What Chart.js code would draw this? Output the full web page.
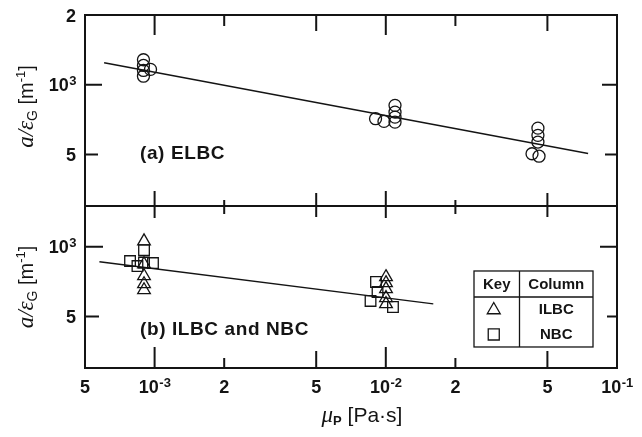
<!DOCTYPE html>
<html><head><meta charset="utf-8">
<script src="https://cdn.jsdelivr.net/npm/chart.js@4.4.0/dist/chart.umd.min.js"></script>
<style>html,body{margin:0;padding:0;background:#fff}canvas{display:block}</style>
</head><body>
<canvas id="c" width="642" height="437"></canvas>
<script>
// ---------------- data ----------------
const xTickValues = [5e-4, 1e-3, 2e-3, 5e-3, 1e-2, 2e-2, 5e-2, 1e-1];
const xTickLabels = ['5', '10^-3', '2', '5', '10^-2', '2', '5', '10^-1'];
const yTopTickValues = [2000, 1000, 500];
const yTopTickLabels = ['2', '10^3', '5'];
const yBotTickValues = [1000, 500];
const yBotTickLabels = ['10^3', '5'];

// (a) ELBC, circles
const elbcX = [8.95e-4, 8.95e-4, 8.95e-4, 8.95e-4, 9.6e-4,
               9.03e-3, 9.82e-3, 1.096e-2, 1.096e-2, 1.096e-2, 1.096e-2,
               4.55e-2, 4.55e-2, 4.55e-2, 4.29e-2, 4.6e-2];
const elbcY = [1282, 1212, 1153, 1089, 1165,
               714, 695, 815, 762, 725, 690,
               650, 605, 566, 504, 492];
// (b) ILBC, triangles
const ilbcX = [9e-4, 9e-4, 9e-4, 9e-4, 9e-4,
               1.002e-2, 1.002e-2, 1.002e-2, 1.002e-2, 1.002e-2];
const ilbcY = [1057, 842, 748, 691, 651,
               741, 698, 658, 602, 567];
// (b) NBC, squares
const nbcX = [7.83e-4, 8.43e-4, 9.84e-4, 9e-4, 9e-4,
              9.07e-3, 9.21e-3, 8.59e-3, 1.074e-2];
const nbcY = [868, 826, 851, 967, 855,
              705, 638, 584, 550];
// correlation lines
const fitAX = [6.05e-4, 7.5e-2];
const fitAY = [1245, 505];
const fitBX = [5.77e-4, 1.605e-2];
const fitBY = [862, 567];

const zip = (xs, ys) => xs.map((x, i) => ({x, y: ys[i]}));
const INK = '#141414';
const SANS = '"Liberation Sans", Arial, sans-serif';
const SERIF = '"Liberation Serif", "DejaVu Serif", serif';

function splitSci(lbl) {
  const i = lbl.indexOf('^');
  return i < 0 ? {base: lbl, sup: ''} : {base: lbl.slice(0, i), sup: lbl.slice(i + 1)};
}
function drawSci(ctx, lbl, x, baseY, align, size) {
  const {base, sup} = splitSci(lbl);
  const bf = 'bold ' + size + 'px ' + SANS;
  const sf = 'bold ' + Math.round(size * 0.72) + 'px ' + SANS;
  ctx.font = bf; const bw = ctx.measureText(base).width;
  ctx.font = sf; const sw = sup ? ctx.measureText(sup).width : 0;
  const tw = bw + sw;
  let x0 = align === 'center' ? x - tw / 2 : (align === 'right' ? x - tw : x);
  ctx.textAlign = 'left'; ctx.textBaseline = 'alphabetic';
  ctx.font = bf; ctx.fillText(base, x0, baseY);
  if (sup) { ctx.font = sf; ctx.fillText(sup, x0 + bw + 0.5, baseY - size * 0.33); }
}
function drawRich(ctx, parts, cx, cy) {
  let total = 0;
  parts.forEach(p => { ctx.font = p.font; p.w = ctx.measureText(p.t).width; total += p.w; });
  let x = cx - total / 2;
  ctx.textAlign = 'left'; ctx.textBaseline = 'alphabetic';
  parts.forEach(p => { ctx.font = p.font; ctx.fillText(p.t, x, cy + (p.dy || 0)); x += p.w; });
}
function mant(v) { const e = Math.floor(Math.log10(v) + 1e-9); return Math.round(v / Math.pow(10, e)); }

const framePlugin = {
  id: 'frame',
  afterDraw(chart) {
    const ctx = chart.ctx;
    const xs = chart.scales.x, yt = chart.scales.yTop, yb = chart.scales.yBot;
    const L = xs.left, R = xs.right;
    const T = Math.min(yt.top, yb.top), B = Math.max(yt.bottom, yb.bottom);
    const D = yt.bottom < yb.bottom ? yt.bottom : yb.top;
    ctx.save();
    ctx.strokeStyle = INK; ctx.fillStyle = INK; ctx.lineCap = 'butt';
    // frame + divider
    ctx.lineWidth = 2;
    ctx.strokeRect(L, T, R - L, B - T);
    ctx.beginPath(); ctx.moveTo(L, D); ctx.lineTo(R, D); ctx.stroke();
    // x ticks (inward)
    const lenTop = {1: 20, 5: 16, 2: 11};
    const lenDivUp = {1: 15, 5: 13, 2: 6};
    const lenDivDn = {1: 12, 5: 11, 2: 8};
    const lenBot = {1: 21, 5: 17, 2: 10};
    ctx.lineWidth = 2;
    xTickValues.forEach((v, i) => {
      const px = xs.getPixelForValue(v);
      if (px <= L + 1 || px >= R - 1) return;
      const m = mant(v);
      ctx.beginPath();
      ctx.moveTo(px, T); ctx.lineTo(px, T + lenTop[m]);
      ctx.moveTo(px, D - lenDivUp[m]); ctx.lineTo(px, D + lenDivDn[m]);
      ctx.moveTo(px, B); ctx.lineTo(px, B - lenBot[m]);
      ctx.stroke();
    });
    // y ticks (inward, both sides)
    const yTickLen = {top: {1: [17, 15], 5: [13, 12]}, bot: {1: [18, 17], 5: [14, 10]}};
    [[yt, yTopTickValues, 'top'], [yb, yBotTickValues, 'bot']].forEach(([sc, vals, key]) => {
      vals.forEach(v => {
        const py = sc.getPixelForValue(v);
        if (py <= sc.top + 1 || py >= sc.bottom - 1) return;
        const m = mant(v);
        const [ll, rl] = yTickLen[key][m];
        ctx.beginPath();
        ctx.moveTo(L, py); ctx.lineTo(L + ll, py);
        ctx.moveTo(R, py); ctx.lineTo(R - rl, py);
        ctx.stroke();
      });
    });
    // x tick labels
    xTickValues.forEach((v, i) => {
      drawSci(ctx, xTickLabels[i], xs.getPixelForValue(v), B + 25, 'center', 18);
    });
    // y tick labels
    [[yt, yTopTickValues, yTopTickLabels], [yb, yBotTickValues, yBotTickLabels]].forEach(([sc, vals, labs]) => {
      vals.forEach((v, i) => {
        const py = sc.getPixelForValue(v);
        drawSci(ctx, labs[i], L - 9, py + 6.5, 'right', 18);
      });
    });
    // y axis titles
    const yTitle = () => [
      {t: 'a/\u03b5', font: 'italic 23px ' + SERIF},
      {t: 'G', font: '14px ' + SANS, dy: 4},
      {t: ' [m', font: '20px ' + SANS},
      {t: '-1', font: '13px ' + SANS, dy: -8},
      {t: ']', font: '20px ' + SANS}
    ];
    [[yt, -4], [yb, 0]].forEach(([sc, off]) => {
      ctx.save();
      ctx.translate(L - 52, (sc.top + sc.bottom) / 2 + off);
      ctx.rotate(-Math.PI / 2);
      drawRich(ctx, yTitle(), 0, 0);
      ctx.restore();
    });
    // x axis title
    drawRich(ctx, [
      {t: '\u03bc', font: 'italic 23px ' + SERIF},
      {t: 'P', font: 'bold 13px ' + SANS, dy: 3},
      {t: ' [Pa\u00b7s]', font: '21px ' + SANS}
    ], (L + R) / 2 + 11, B + 54);
    // panel labels
    ctx.font = 'bold 19px ' + SANS; ctx.textAlign = 'left'; ctx.textBaseline = 'alphabetic';
    ctx.letterSpacing = '0.6px';
    ctx.fillText('(a) ELBC', L + 55, yt.bottom - 47);
    ctx.fillText('(b) ILBC and NBC', L + 55, yb.bottom - 33);
    ctx.letterSpacing = '0px';
    // key box
    const kx0 = R - 143, kx1 = R - 24, ky0 = yb.top + 65, ky1 = yb.top + 141;
    const kxm = kx0 + 45.5, kyh = ky0 + 26;
    ctx.lineWidth = 1.3;
    ctx.strokeRect(kx0, ky0, kx1 - kx0, ky1 - ky0);
    ctx.beginPath();
    ctx.moveTo(kx0, kyh); ctx.lineTo(kx1, kyh);
    ctx.moveTo(kxm, ky0); ctx.lineTo(kxm, ky1);
    ctx.stroke();
    ctx.font = 'bold 15px ' + SANS; ctx.textAlign = 'center'; ctx.textBaseline = 'middle';
    ctx.fillText('Key', (kx0 + kxm) / 2, ky0 + 13.5);
    ctx.fillText('Column', (kxm + kx1) / 2, ky0 + 13.5);
    ctx.fillText('ILBC', (kxm + kx1) / 2, ky0 + 38.5);
    ctx.fillText('NBC', (kxm + kx1) / 2, ky0 + 63.5);
    ctx.fillStyle = 'rgba(0,0,0,0)';
    ctx.lineWidth = 1.3;
    Chart.helpers.drawPoint(ctx, {pointStyle: 'triangle', radius: 7.5, rotation: 0, borderWidth: 1.3}, (kx0 + kxm) / 2 - 3, ky0 + 39);
    Chart.helpers.drawPoint(ctx, {pointStyle: 'rect', radius: 7.8, rotation: 0, borderWidth: 1.3}, (kx0 + kxm) / 2 - 3, ky0 + 63.5);
    ctx.restore();
  }
};

const pointDs = (label, data, yAxisID, style, r) => ({
  label, data, yAxisID, pointStyle: style, pointRadius: r, pointHoverRadius: r,
  borderColor: INK, backgroundColor: 'rgba(0,0,0,0)', pointBorderWidth: 1.3, showLine: false
});
const lineDs = (label, data, yAxisID) => ({
  label, data, yAxisID, showLine: true, pointRadius: 0, borderColor: INK, borderWidth: 1.4,
  backgroundColor: 'rgba(0,0,0,0)', fill: false
});

const hiddenLog = (extra) => Object.assign({
  type: 'logarithmic', display: false, grid: {display: false}, border: {display: false}, ticks: {display: false}
}, extra);

new Chart(document.getElementById('c'), {
  type: 'scatter',
  data: {
    datasets: [
      lineDs('fit a', zip(fitAX, fitAY), 'yTop'),
      lineDs('fit b', zip(fitBX, fitBY), 'yBot'),
      pointDs('ELBC', zip(elbcX, elbcY), 'yTop', 'circle', 6),
      pointDs('ILBC', zip(ilbcX, ilbcY), 'yBot', 'triangle', 7.3),
      pointDs('NBC', zip(nbcX, nbcY), 'yBot', 'rect', 7.5)
    ]
  },
  options: {
    responsive: false, animation: false, devicePixelRatio: 1,
    layout: {padding: {left: 85, right: 25, top: 15, bottom: 69}},
    plugins: {legend: {display: false}, tooltip: {enabled: false}},
    scales: {
      x: hiddenLog({position: 'bottom', min: 5e-4, max: 1e-1}),
      yBot: hiddenLog({position: 'left', min: 300, max: 1500, stack: 'panels', stackWeight: 0.699}),
      yTop: hiddenLog({position: 'left', min: 300, max: 2000, stack: 'panels', stackWeight: 0.824})
    }
  },
  plugins: [framePlugin]
});
</script>
</body></html>
